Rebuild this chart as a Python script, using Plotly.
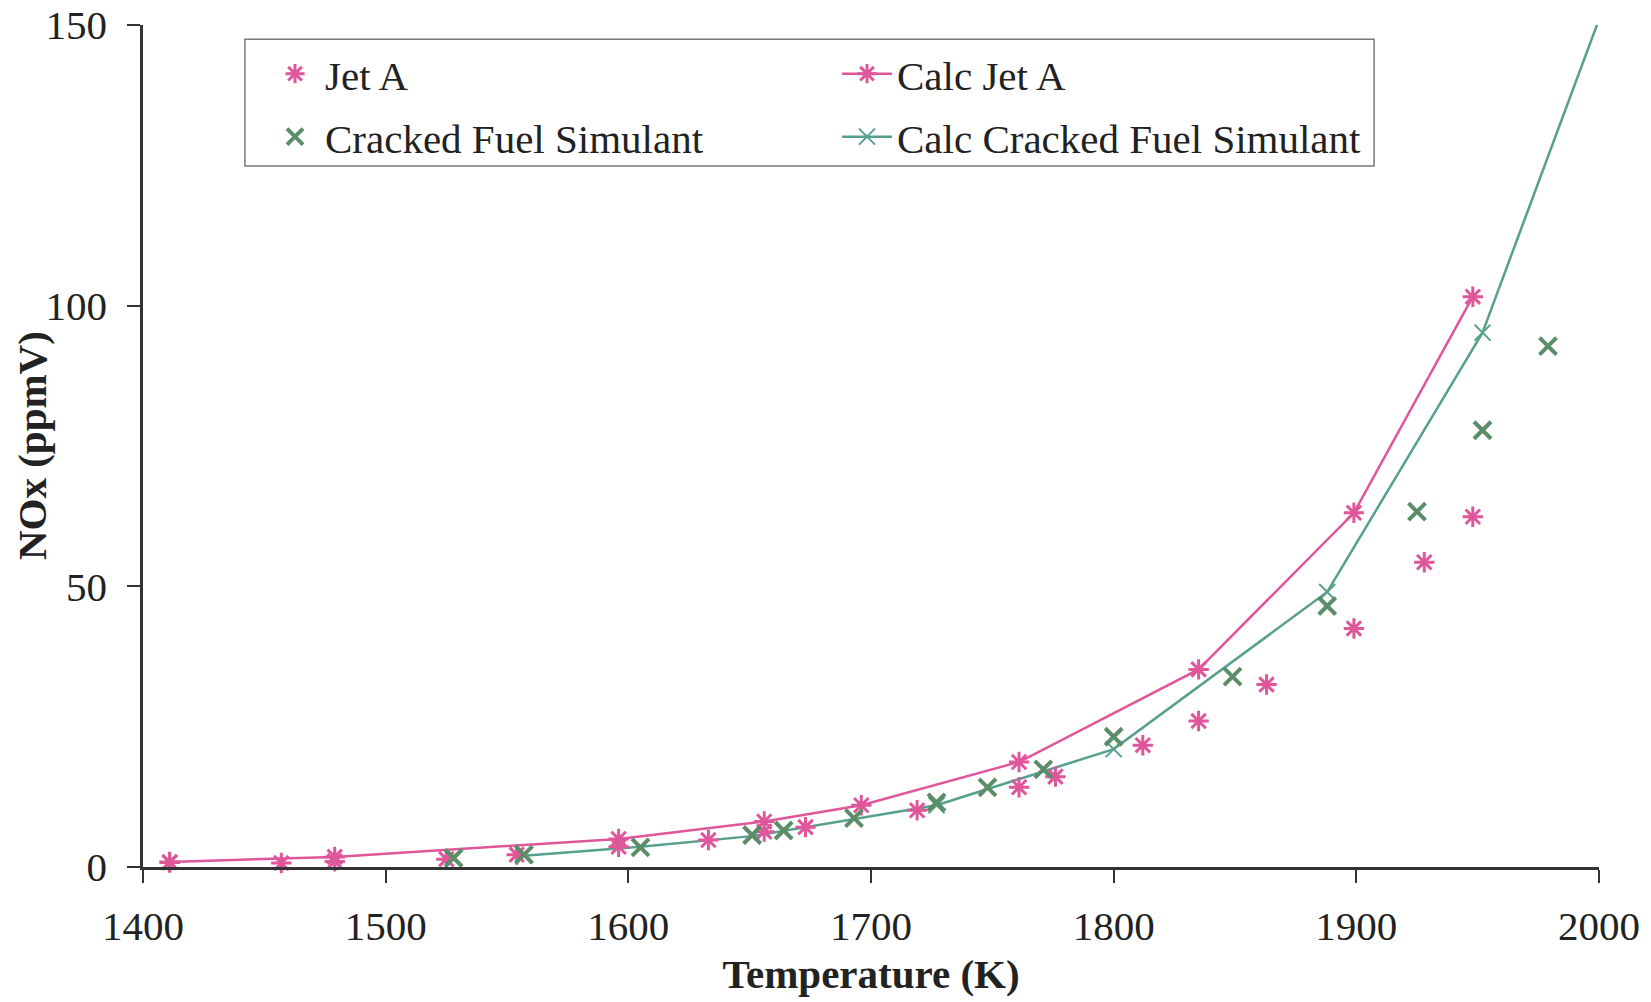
import plotly.graph_objects as go

# ---- data ----
jet_a_T = [1411, 1457, 1479, 1525, 1554, 1596, 1633, 1656, 1673, 1719, 1761, 1776, 1812, 1835, 1863, 1899, 1928, 1948]
jet_a_nox = [0.8, 0.7, 1.0, 1.4, 2.2, 3.6, 4.8, 6.3, 7.1, 10.1, 14.2, 16.1, 21.7, 26.0, 32.5, 42.5, 54.3, 62.4]

calc_jet_a_T = [1411, 1479, 1596, 1656, 1696, 1761, 1835, 1899, 1948]
calc_jet_a_nox = [0.9, 1.8, 5.0, 8.1, 11.0, 18.7, 35.2, 63.1, 101.6]

cfs_T = [1528, 1557, 1605, 1651, 1664, 1693, 1727, 1748, 1771, 1800, 1849, 1888, 1925, 1952, 1979]
cfs_nox = [1.6, 2.2, 3.5, 5.7, 6.5, 8.7, 11.5, 14.2, 17.4, 23.2, 33.9, 46.5, 63.3, 77.8, 92.8]

calc_cfs_T = [1557, 1605, 1651, 1693, 1727, 1800, 1888, 1952, 2000]
calc_cfs_nox = [2.0, 3.6, 5.5, 8.6, 11.0, 21.0, 49.0, 95.2, 151.0]

x_ticks = [1400, 1500, 1600, 1700, 1800, 1900, 2000]
y_ticks = [0, 50, 100, 150]

PINK = "#e0569a"
GREEN = "#5b8d68"
TEAL = "#56a08e"
AXIS = "#333333"
TXT = "#222222"
FONT = "Liberation Serif"
FS = 41

fig = go.Figure()

fig.add_trace(go.Scatter(
    x=calc_jet_a_T, y=calc_jet_a_nox, mode="lines+markers", name="Calc Jet A",
    line=dict(color=PINK, width=2.5),
    marker=dict(symbol="asterisk-open", size=17, color=PINK, line=dict(color=PINK, width=3)),
    legend="legend", cliponaxis=False))

fig.add_trace(go.Scatter(
    x=calc_cfs_T, y=calc_cfs_nox, mode="lines+markers", name="Calc Cracked Fuel Simulant",
    line=dict(color=TEAL, width=2.5),
    marker=dict(symbol="x-thin-open", size=16, color=TEAL, line=dict(color=TEAL, width=2)),
    legend="legend2", cliponaxis=True))

fig.add_trace(go.Scatter(
    x=jet_a_T, y=jet_a_nox, mode="markers", name="Jet A",
    marker=dict(symbol="asterisk-open", size=17, color=PINK, line=dict(color=PINK, width=3)),
    legend="legend", legendrank=1, cliponaxis=False))

fig.add_trace(go.Scatter(
    x=cfs_T, y=cfs_nox, mode="markers", name="Cracked Fuel Simulant",
    marker=dict(symbol="x-thin-open", size=17, color=GREEN, line=dict(color=GREEN, width=4)),
    legend="legend2", legendrank=1, cliponaxis=False))

leg_common = dict(
    orientation="h", xanchor="left", yanchor="middle",
    entrywidth=507, entrywidthmode="pixels", itemwidth=50,
    bgcolor="rgba(0,0,0,0)", borderwidth=0,
    font=dict(family=FONT, size=FS, color=TXT),
    traceorder="normal",
)

fig.update_layout(
    width=1651, height=1002,
    margin=dict(l=143, r=52, t=25, b=135),
    paper_bgcolor="white", plot_bgcolor="white",
    font=dict(family=FONT, size=FS, color=TXT),
    showlegend=True,
    legend=dict(x=0.0838, y=0.9418, **leg_common),
    legend2=dict(x=0.0838, y=0.867, **leg_common),
    shapes=[dict(type="rect", xref="paper", yref="paper",
                 x0=0.070, x1=0.8455, y0=0.8325, y1=0.983,
                 line=dict(color="#777777", width=1.5), fillcolor="rgba(0,0,0,0)", layer="below")],
    annotations=[dict(text="<b>NOx (ppmV)</b>", xref="paper", yref="paper",
                      x=-0.0762, y=0.5, xanchor="center", yanchor="middle",
                      textangle=-90, showarrow=False,
                      font=dict(family=FONT, size=FS, color=TXT))],
)

fig.update_xaxes(
    range=[1400, 2000], tickvals=x_ticks, ticktext=[str(v) for v in x_ticks],
    showgrid=False, zeroline=False, automargin=False,
    showline=True, linecolor=AXIS, linewidth=2.5,
    ticks="outside", ticklen=13, tickwidth=2, tickcolor=AXIS,
    ticklabelstandoff=8,
    title=dict(text="<b>Temperature (K)</b>", font=dict(family=FONT, size=FS), standoff=12),
)
fig.update_yaxes(
    range=[0, 150], tickvals=y_ticks, ticktext=[str(v) for v in y_ticks],
    showgrid=False, zeroline=False, automargin=False,
    showline=True, linecolor=AXIS, linewidth=2.5,
    ticks="outside", ticklen=13, tickwidth=2, tickcolor=AXIS,
    ticklabelstandoff=12,
)

fig.write_html("out.html")
